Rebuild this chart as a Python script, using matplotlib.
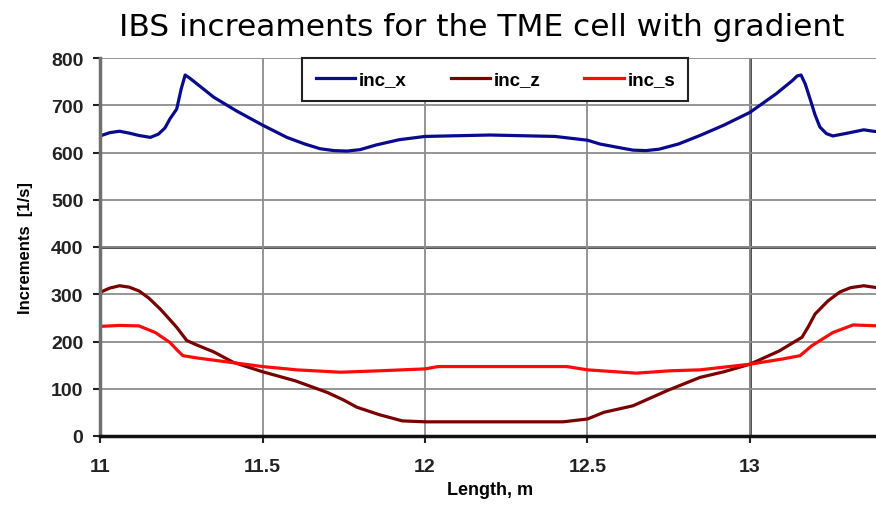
import matplotlib
matplotlib.use("Agg")
import matplotlib.pyplot as plt

# values
x_x = [11.0, 11.03, 11.06, 11.09, 11.12, 11.155, 11.18, 11.2, 11.215, 11.236, 11.25,
       11.262, 11.275, 11.35, 11.42, 11.5, 11.575, 11.63, 11.677, 11.72, 11.76, 11.8,
       11.85, 11.92, 12.0, 12.2, 12.4, 12.5, 12.538, 12.6, 12.64, 12.68, 12.72, 12.78,
       12.846, 12.92, 13.0, 13.08, 13.13, 13.145, 13.157, 13.17, 13.185, 13.2, 13.215,
       13.235, 13.255, 13.3, 13.35, 13.4]
inc_x = [635, 642, 645, 641, 636, 632, 639, 652, 671, 692, 735,
         764, 758, 717, 688, 658, 632, 618, 608, 604, 603, 606,
         616, 627, 634, 637, 634, 626, 618, 610, 605, 604, 607, 618,
         636, 658, 685, 724, 752, 762, 764, 745, 713, 680, 654,
         640, 635, 641, 648, 643]

x_z = [11.0, 11.03, 11.06, 11.09, 11.12, 11.15, 11.185, 11.21, 11.236, 11.267, 11.3,
       11.35, 11.41, 11.5, 11.6, 11.70, 11.75, 11.79, 11.86, 11.93, 12.0, 12.2, 12.425,
       12.5, 12.55, 12.64, 12.745, 12.846, 12.92, 13.0, 13.09, 13.16, 13.18, 13.2, 13.24,
       13.277, 13.31, 13.35, 13.4]
inc_z = [304, 313, 318, 315, 307, 292, 269, 250, 230, 202, 192,
         178, 156, 136, 117, 92, 76, 61, 45, 32, 30, 30, 30,
         36, 50, 64, 96, 124, 136, 152, 180, 209, 232, 258, 286,
         305, 314, 318, 313]

x_s = [11.0, 11.06, 11.12, 11.17, 11.215, 11.24, 11.255, 11.30, 11.40, 11.5, 11.605,
       11.74, 11.86, 12.0, 12.04, 12.2, 12.436, 12.5, 12.65, 12.754, 12.846, 13.0,
       13.1, 13.154, 13.19, 13.255, 13.317, 13.4]
inc_s = [232, 234, 233, 219, 198, 180, 170, 165, 156, 147, 140,
         135, 138, 142, 147, 147, 147, 140, 133, 138, 140, 152,
         163, 170, 191, 219, 235, 233]

plt.rcParams["font.family"] = ["Liberation Sans", "DejaVu Sans"]

fig = plt.figure(figsize=(8.76, 5.06), dpi=100)
ax = fig.add_axes([100 / 876, 1 - 437 / 506, 780 / 876, 378 / 506])

ax.plot(x_x, inc_x, color="#0a0a8c", lw=2.3, label="inc_x")
ax.plot(x_z, inc_z, color="#7a0000", lw=2.3, label="inc_z")
ax.plot(x_s, inc_s, color="#ff0a0a", lw=2.3, label="inc_s")

ax.set_xlim(11, 13.4)
ax.set_ylim(0, 800)
ax.set_xticks([11, 11.5, 12, 12.5, 13])
ax.set_xticklabels(["11", "11.5", "12", "12.5", "13"])
ax.set_yticks(range(0, 801, 100))

ax.grid(True, color="#8c8c8c", lw=1.3)
ax.set_axisbelow(True)
# the two darker grid lines in the original
ax.axvline(13, color="#1a1a1a", lw=1.8, zorder=0.5)
ax.axhline(400, color="#1a1a1a", lw=1.8, zorder=0.5)

ax.spines["top"].set_visible(False)
ax.spines["right"].set_visible(False)
ax.spines["left"].set_color("#707070")
ax.spines["left"].set_linewidth(2.5)
ax.spines["bottom"].set_color("#111111")
ax.spines["bottom"].set_linewidth(2.5)
ax.tick_params(axis="x", direction="out", length=5, width=1.5, colors="#222222",
               labelsize=14, pad=11)
ax.tick_params(axis="y", direction="out", length=5, width=1.5, colors="#222222",
               labelsize=14, pad=7)
for lab in ax.get_xticklabels() + ax.get_yticklabels():
    lab.set_fontweight("bold")

ax.set_xlabel("Length, m", fontsize=13, fontweight="bold", labelpad=4)
ax.set_ylabel("Increments  [1/s]", fontsize=12, fontweight="bold", labelpad=13)

fig.text(0.55, 0.945, "IBS increaments for the TME cell with gradient",
         fontsize=22.5, family="DejaVu Sans", ha="center", va="center")

leg = ax.legend(loc="upper center", bbox_to_anchor=(0.507, 1.0), ncol=3,
                frameon=True, fancybox=False, handlelength=2.1,
                handletextpad=0.2, columnspacing=2.35, borderpad=0.7,
                borderaxespad=0, prop={"weight": "bold", "size": 13.5})
leg.get_frame().set_edgecolor("#222222")
leg.get_frame().set_linewidth(1.5)
leg.get_frame().set_alpha(1)

fig.savefig("out.png", dpi=100)
